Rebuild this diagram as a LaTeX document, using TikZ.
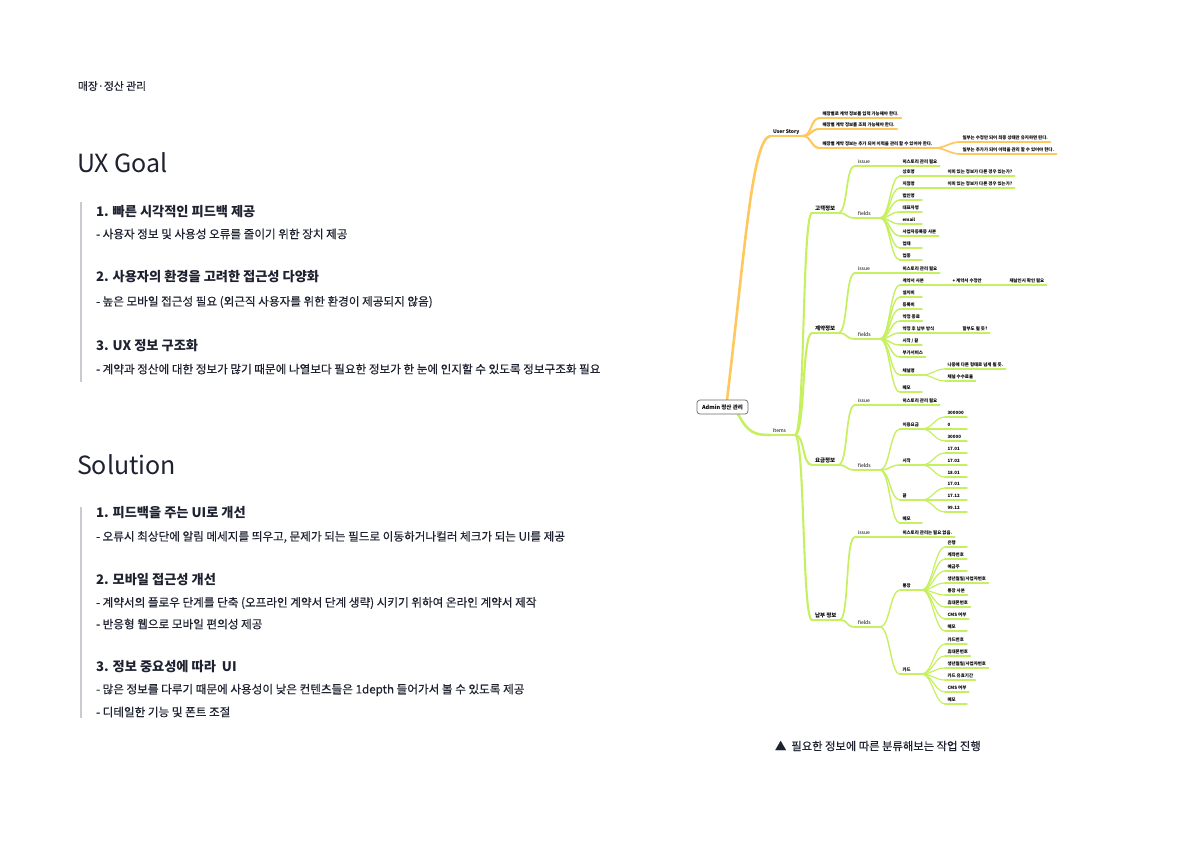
\documentclass[tikz,border=0pt]{standalone}
\usepackage{fontspec}
\setmainfont{Noto Sans CJK KR}
\newfontfamily\bodyf{Noto Sans CJK KR}[FakeBold=0.3]
\definecolor{ink}{HTML}{1E2230}
\definecolor{orng}{HTML}{FFC85E}
\definecolor{lime}{HTML}{C6F060}
\definecolor{barg}{HTML}{C9CBD0}
\definecolor{boxg}{HTML}{6A6A6A}
\newsavebox\mmsave
\newcommand\mnb[2]{\sbox\mmsave{#2}\ifdim\wd\mmsave<#1pt\makebox[#1pt][l]{\usebox\mmsave}\else\usebox\mmsave\fi}
\tikzset{
  every node/.style={inner sep=0pt, outer sep=0pt},
  txt/.style={anchor=west, text=ink},
  hsec/.style={txt, font=\fontsize{25}{28}\selectfont},
  hd/.style={txt, font=\fontsize{13.2}{15}\selectfont\bfseries},
  bd/.style={txt, font=\bodyf\fontsize{11.6}{13}\selectfont},
  small/.style={txt, font=\bodyf\fontsize{10.8}{12}\selectfont},
  bar/.style={draw=barg, line width=1.5pt},
  mmbase/.style={anchor=south west, inner xsep=2.5pt, inner ysep=1.8pt, text=black},
  mmleafs/.style={mmbase, font=\fontsize{4.45}{4.45}\selectfont\bfseries, text height=3.4pt, text depth=0.9pt},
  mmmids/.style={mmbase, inner xsep=3pt, font=\fontsize{5}{5}\selectfont, text height=4pt, text depth=1pt},
  mmcats/.style={mmbase, inner xsep=3pt, font=\fontsize{5.5}{5.5}\selectfont\bfseries, text height=4.3pt, text depth=1pt},
  oL1/.style={draw=orng, line width=2.6pt, line cap=round},
  oL2/.style={draw=orng, line width=2.1pt, line cap=round},
  oL3/.style={draw=orng, line width=1.7pt, line cap=round},
  gL1/.style={draw=lime, line width=2.6pt, line cap=round},
  gL2/.style={draw=lime, line width=2.1pt, line cap=round},
  gL3/.style={draw=lime, line width=1.7pt, line cap=round},
  gL4/.style={draw=lime, line width=1.4pt, line cap=round},
  gL5/.style={draw=lime, line width=1.2pt, line cap=round},
  rootbox/.style={draw=boxg, fill=white, rounded corners=3pt, line width=0.7pt, minimum width=51pt, minimum height=14pt, font=\fontsize{5.5}{6}\selectfont\bfseries}
}
\newcommand\mmleaf[4]{\node[mmleafs] (#1) at (#2,#3) {\mnb{17}{#4}};}
\newcommand\mmmid[4]{\node[mmmids] (#1) at (#2,#3) {\mnb{19}{#4}};}
\newcommand\mmcat[4]{\node[mmcats] (#1) at (#2,#3) {\mnb{20}{#4}};}
\begin{document}
\begin{tikzpicture}[x=1pt, y=-1pt]
\fill[white] (0,0) rectangle (1191,843);
\useasboundingbox (0,0) rectangle (1191,843);

% ---------------- left column ----------------
\node[small] (pg) at (78,86) {매장·정산 관리};
\node[hsec] (ux) at (77,163) {UX Goal};
\draw[bar] (81,202) -- (81,382);
\node[hd] (u1) at (96,212) {1. 빠른 시각적인 피드백 제공};
\node[bd] (u1a) at (96,234) {- 사용자 정보 및 사용성 오류를 줄이기 위한 장치 제공};
\node[hd] (u2) at (96,277) {2. 사용자의 환경을 고려한 접근성 다양화};
\node[bd] (u2a) at (96,302) {- 높은 모바일 접근성 필요 (외근직 사용자를 위한 환경이 제공되지 않음)};
\node[hd] (u3) at (96,346) {3. UX 정보 구조화};
\node[bd] (u3a) at (96,369) {- 계약과 정산에 대한 정보가 많기 때문에 나열보다 필요한 정보가 한 눈에 인지할 수 있도록 정보구조화 필요};

\node[hsec] (so) at (77,465) {Solution};
\draw[bar] (81,507) -- (81,718);
\node[hd] (s1) at (96,513) {1. 피드백을 주는 UI로 개선};
\node[bd] (s1a) at (96,537) {- 오류시 최상단에 알림 메세지를 띄우고, 문제가 되는 필드로 이동하거나컬러 체크가 되는 UI를 제공};
\node[hd] (s2) at (96,580) {2. 모바일 접근성 개선};
\node[bd] (s2a) at (96,603) {- 계약서의 플로우 단계를 단축 (오프라인 계약서 단계 생략) 시키기 위하여 온라인 계약서 제작};
\node[bd] (s2b) at (96,624) {- 반응형 웹으로 모바일 편의성 제공};
\node[hd] (s3) at (96,667) {3. 정보 중요성에 따라\ \ UI};
\node[bd] (s3a) at (96,690) {- 많은 정보를 다루기 때문에 사용성이 낮은 컨텐츠들은 1depth 들어가서 볼 수 있도록 제공};
\node[bd] (s3b) at (96,712) {- 디테일한 기능 및 폰트 조절};

\node[bd, font=\bodyf\fontsize{11.3}{13}\selectfont] (cap) at (775,746) {▲\ \ 필요한 정보에 따른 분류해보는 작업 진행};

% ---------------- mind map nodes ----------------
\node[mmmids, font=\fontsize{5}{5}\selectfont\bfseries] (us) at (770,136) {\mnb{19}{User Story}};
\mmleaf{us1}{820}{118}{매장별로 계약 정보를 입력 가능해야 한다.}
\mmleaf{us2}{820}{129}{매장별 계약 정보를 조회 가능해야 한다.}
\mmleaf{us3}{820}{148}{매장별 계약 정보는 추가 되어 이력을 관리 할 수 있어야 한다.}
\mmleaf{us31}{960}{142}{일부는 수정만 되어 최종 상태만 유지하면 된다.}
\mmleaf{us32}{960}{154}{일부는 추가가 되어 이력을 관리 할 수 있어야 한다.}

\mmmid{it}{770}{435}{Items}

\mmcat{c1}{812}{213}{고객정보}
\mmmid{c1i}{855}{166}{issue}
\mmleaf{c1ia}{900}{166}{히스토리 관리 필요}
\mmmid{c1f}{855}{218}{fields}
\mmleaf{c1f1}{900}{176}{상호명}
\mmleaf{c1f2}{900}{188}{지점명}
\mmleaf{c1f3}{900}{200}{법인명}
\mmleaf{c1f4}{900}{212}{대표자명}
\mmleaf{c1f5}{900}{224}{email}
\mmleaf{c1f6}{900}{236}{사업자등록증 사본}
\mmleaf{c1f7}{900}{248}{업태}
\mmleaf{c1f8}{900}{260}{업종}
\mmleaf{c1f1a}{945}{176}{이미 있는 정보가 다른 경우 있는가?}
\mmleaf{c1f2a}{945}{188}{이미 있는 정보가 다른 경우 있는가?}

\mmcat{c2}{812}{333}{계약정보}
\mmmid{c2i}{855}{273}{issue}
\mmleaf{c2ia}{900}{273}{히스토리 관리 필요}
\mmmid{c2f}{855}{339}{fields}
\mmleaf{c2f1}{900}{285}{계약서 사본}
\mmleaf{c2f2}{900}{297}{설치비}
\mmleaf{c2f3}{900}{309}{등록비}
\mmleaf{c2f4}{900}{321}{약정 종료}
\mmleaf{c2f5}{900}{333}{약정 후 납부 방식}
\mmleaf{c2f6}{900}{345}{시작 / 끝}
\mmleaf{c2f7}{900}{357}{부가서비스}
\mmleaf{c2f8}{900}{375}{채널명}
\mmleaf{c2f9}{900}{392}{메모}
\mmleaf{c2f1a}{950}{285}{+ 계약서 수정안}
\mmleaf{c2f1b}{1007}{285}{재날인시 확인 필요}
\mmleaf{c2f5a}{960}{333}{할부도 될 듯?}
\mmleaf{c2f8a}{945}{369}{나중에 다른 형태로 넘게 될 듯.}
\mmleaf{c2f8b}{945}{381}{채널 수수료율}

\mmcat{c3}{812}{465}{요금정보}
\mmmid{c3i}{855}{405}{issue}
\mmleaf{c3ia}{900}{405}{히스토리 관리 필요}
\mmmid{c3f}{855}{470}{fields}
\mmleaf{c3f1}{900}{429}{이용요금}
\mmleaf{c3f2}{900}{465}{시작}
\mmleaf{c3f3}{900}{500}{끝}
\mmleaf{c3f4}{900}{523}{메모}
\mmleaf{c3f1a}{945}{417}{300000}
\mmleaf{c3f1b}{945}{429}{0}
\mmleaf{c3f1c}{945}{441}{30000}
\mmleaf{c3f2a}{945}{453}{17.01}
\mmleaf{c3f2b}{945}{465}{17.02}
\mmleaf{c3f2c}{945}{477}{18.01}
\mmleaf{c3f3a}{945}{488}{17.01}
\mmleaf{c3f3b}{945}{500}{17.12}
\mmleaf{c3f3c}{945}{512}{99.12}

\mmcat{c4}{812}{620}{납부 정보}
\mmmid{c4i}{855}{537}{issue}
\mmleaf{c4ia}{900}{537}{히스토리 관리는 필요 없음.}
\mmmid{c4f}{855}{627}{fields}
\mmleaf{c4f1}{900}{590}{통장}
\mmleaf{c4f2}{900}{674}{카드}
\mmleaf{c4f1a}{945}{547}{은행}
\mmleaf{c4f1b}{945}{559}{계좌번호}
\mmleaf{c4f1c}{945}{571}{예금주}
\mmleaf{c4f1d}{945}{583}{생년월일/사업자번호}
\mmleaf{c4f1e}{945}{595}{통장 사본}
\mmleaf{c4f1f}{945}{607}{휴대폰번호}
\mmleaf{c4f1g}{945}{619}{CMS 여부}
\mmleaf{c4f1h}{945}{631}{메모}
\mmleaf{c4f2a}{945}{644}{카드번호}
\mmleaf{c4f2b}{945}{656}{휴대폰번호}
\mmleaf{c4f2c}{945}{668}{생년월일/사업자번호}
\mmleaf{c4f2d}{945}{680}{카드 유효기간}
\mmleaf{c4f2e}{945}{692}{CMS 여부}
\mmleaf{c4f2f}{945}{704}{메모}

% ---------------- mind map lines ----------------
\coordinate (rO) at (727,400);
\coordinate (rG) at (738,414);

\draw[oL1] (rO) .. controls (745,250) and (752,140) .. (us.south west);
\draw[gL1] (rG) .. controls (748,433) and (755,435) .. (it.south west);
\draw[oL1] (us.south west) -- (us.south east);
\draw[gL1] (it.south west) -- (it.south east);

% level 2
\foreach \a/\b in {us/us1, us/us2, us/us3} {
  \draw[oL2] (\a.south east) .. controls +(10,0) and +(-10,0) .. (\b.south west);
  \draw[oL2] (\b.south west) -- (\b.south east);
}
\foreach \a/\b in {it/c1, it/c2, it/c3, it/c4} {
  \draw[gL2] (\a.south east) .. controls +(10,0) and +(-10,0) .. (\b.south west);
  \draw[gL2] (\b.south west) -- (\b.south east);
}
% level 3
\foreach \a/\b in {us3/us31, us3/us32} {
  \draw[oL3] (\a.south east) .. controls +(10,0) and +(-10,0) .. (\b.south west);
  \draw[oL3] (\b.south west) -- (\b.south east);
}
\foreach \a/\b in {c1/c1i, c1/c1f, c2/c2i, c2/c2f, c3/c3i, c3/c3f, c4/c4i, c4/c4f} {
  \draw[gL3] (\a.south east) .. controls +(10,0) and +(-10,0) .. (\b.south west);
  \draw[gL3] (\b.south west) -- (\b.south east);
}
% level 4
\foreach \a/\b in {c1i/c1ia, c1f/c1f1, c1f/c1f2, c1f/c1f3, c1f/c1f4, c1f/c1f5, c1f/c1f6, c1f/c1f7, c1f/c1f8,
  c2i/c2ia, c2f/c2f1, c2f/c2f2, c2f/c2f3, c2f/c2f4, c2f/c2f5, c2f/c2f6, c2f/c2f7, c2f/c2f8, c2f/c2f9,
  c3i/c3ia, c3f/c3f1, c3f/c3f2, c3f/c3f3, c3f/c3f4,
  c4i/c4ia, c4f/c4f1, c4f/c4f2} {
  \draw[gL4] (\a.south east) .. controls +(10,0) and +(-10,0) .. (\b.south west);
  \draw[gL4] (\b.south west) -- (\b.south east);
}
% level 5+
\foreach \a/\b in {c1f1/c1f1a, c1f2/c1f2a, c2f1/c2f1a, c2f1a/c2f1b, c2f5/c2f5a, c2f8/c2f8a, c2f8/c2f8b,
  c3f1/c3f1a, c3f1/c3f1b, c3f1/c3f1c, c3f2/c3f2a, c3f2/c3f2b, c3f2/c3f2c, c3f3/c3f3a, c3f3/c3f3b, c3f3/c3f3c,
  c4f1/c4f1a, c4f1/c4f1b, c4f1/c4f1c, c4f1/c4f1d, c4f1/c4f1e, c4f1/c4f1f, c4f1/c4f1g, c4f1/c4f1h,
  c4f2/c4f2a, c4f2/c4f2b, c4f2/c4f2c, c4f2/c4f2d, c4f2/c4f2e, c4f2/c4f2f} {
  \draw[gL5] (\a.south east) .. controls +(10,0) and +(-10,0) .. (\b.south west);
  \draw[gL5] (\b.south west) -- (\b.south east);
}
% root box on top of the branch starts
\node[rootbox] (root) at (722.5,407) {Admin 정산 관리};
\end{tikzpicture}
\end{document}
